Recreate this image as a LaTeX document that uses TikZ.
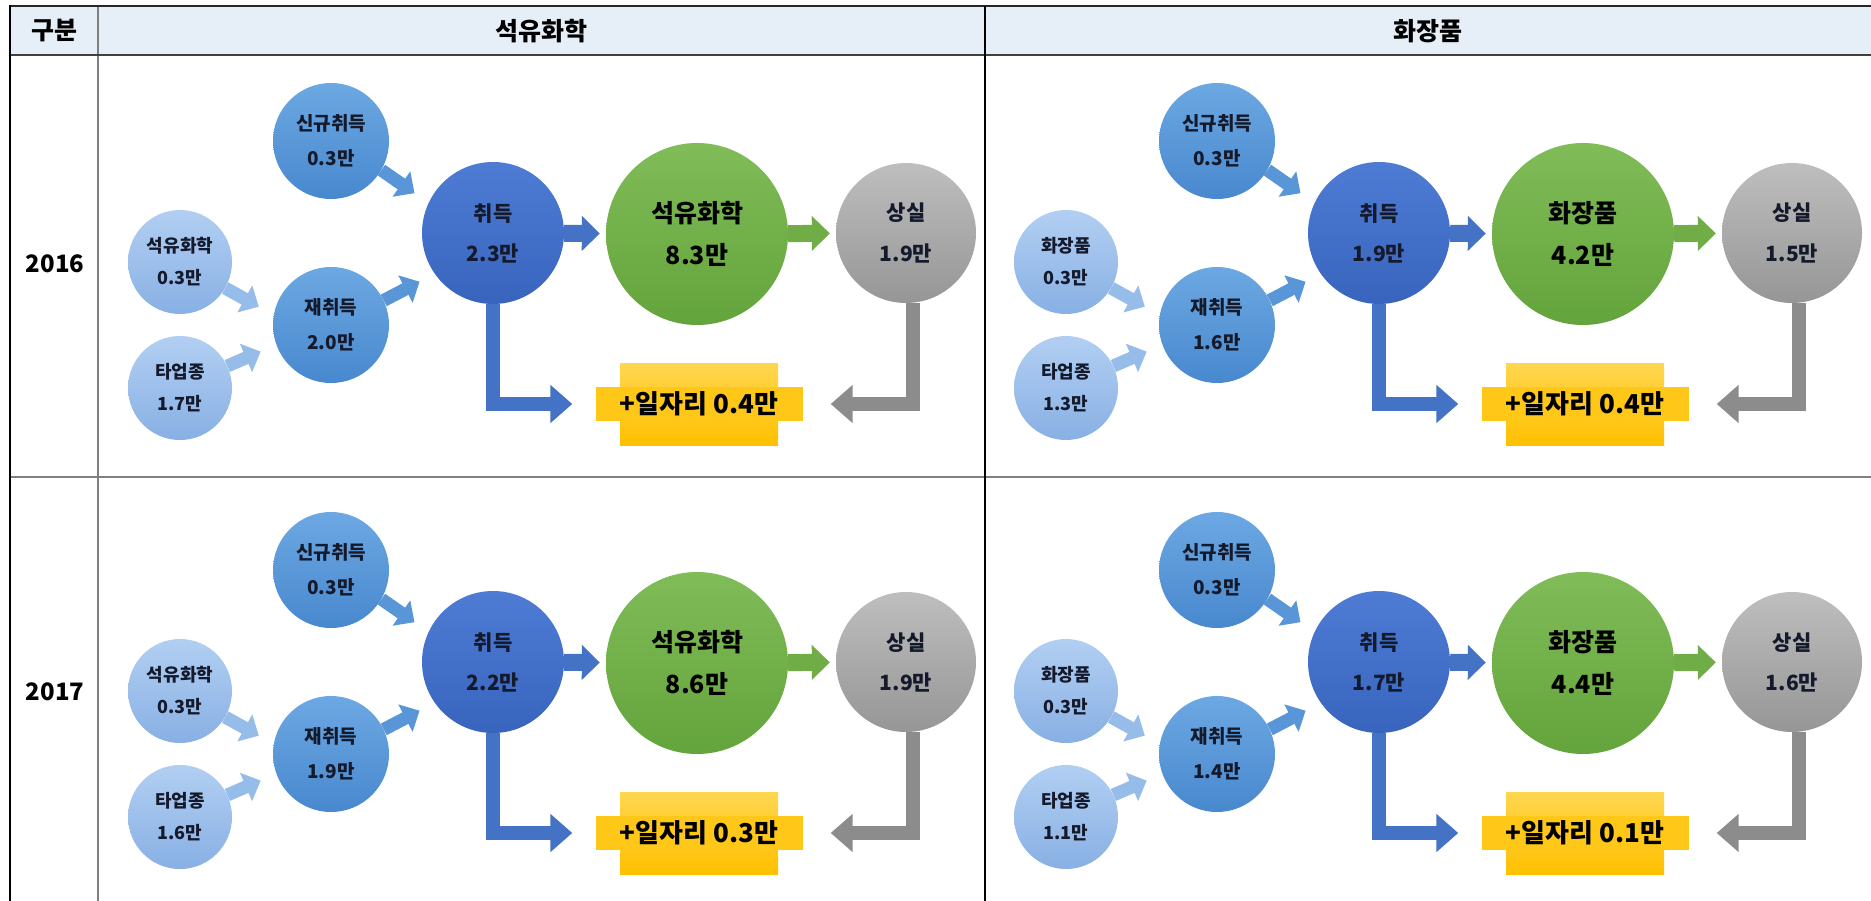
\documentclass[tikz,border=0pt]{standalone}
\usepackage{fontspec}
\setmainfont{Noto Sans CJK KR}
\usetikzlibrary{arrows.meta, backgrounds}

\definecolor{hdrfill}{RGB}{230,238,248}
\definecolor{gridgray}{RGB}{128,128,128}
\definecolor{txtdark}{RGB}{20,26,44}
\definecolor{paletop}{RGB}{178,207,242}
\definecolor{palebot}{RGB}{136,176,228}
\definecolor{midtop}{RGB}{108,168,226}
\definecolor{midbot}{RGB}{72,136,206}
\definecolor{deeptop}{RGB}{78,124,212}
\definecolor{deepbot}{RGB}{56,100,190}
\definecolor{leaftop}{RGB}{128,188,88}
\definecolor{leafbot}{RGB}{100,164,60}
\definecolor{ashtop}{RGB}{190,190,190}
\definecolor{ashbot}{RGB}{150,150,150}
\definecolor{goldtop}{RGB}{255,214,80}
\definecolor{goldbot}{RGB}{255,192,0}
\definecolor{palearr}{RGB}{150,188,234}
\definecolor{midarr}{RGB}{88,150,215}
\definecolor{deeparr}{RGB}{68,114,196}
\definecolor{leafarr}{RGB}{112,173,71}
\definecolor{asharr}{RGB}{140,140,140}

\tikzstyle{hdr} = [font=\bfseries\fontsize{25}{30}\selectfont, text=black]
\tikzstyle{yearlbl} = [font=\bfseries\fontsize{24}{30}\selectfont, text=black]
\tikzstyle{pale} = [circle, minimum size=104pt, inner sep=0pt,
align=center, text=txtdark,
font=\bfseries\fontsize{18}{32}\selectfont,
top color=paletop, bottom color=palebot]
\tikzstyle{midcirc} = [circle, minimum size=116pt, inner sep=0pt,
align=center, text=txtdark,
font=\bfseries\fontsize{19}{35}\selectfont,
top color=midtop, bottom color=midbot]
\tikzstyle{deep} = [circle, minimum size=142pt, inner sep=0pt,
align=center, text=txtdark,
font=\bfseries\fontsize{21}{40}\selectfont,
top color=deeptop, bottom color=deepbot]
\tikzstyle{leaf} = [circle, minimum size=182pt, inner sep=0pt,
align=center, text=black,
font=\bfseries\fontsize{25}{42}\selectfont,
top color=leaftop, bottom color=leafbot]
\tikzstyle{ash} = [circle, minimum size=140pt, inner sep=0pt,
align=center, text=txtdark,
font=\bfseries\fontsize{21}{40}\selectfont,
top color=ashtop, bottom color=ashbot]
\tikzstyle{jobtall} = [rectangle, minimum width=158pt, minimum height=82pt,
inner sep=0pt, top color=goldtop, bottom color=goldbot]
\tikzstyle{jobwide} = [rectangle, minimum width=207pt, minimum height=34pt,
inner sep=0pt, fill=goldbot!70!goldtop, text=black,
font=\bfseries\fontsize{26}{30}\selectfont]
\tikzstyle{flow} = [line width=13pt, -{Triangle[width=30pt,length=16pt]},
shorten >=17pt]
\tikzstyle{bigflow} = [line width=17pt, -{Triangle[width=34pt,length=18pt]},
shorten >=6pt]
\tikzstyle{elbow} = [line width=14pt, -{Triangle[width=37pt,length=22pt]}]

\begin{document}
\begin{tikzpicture}[x=1pt, y=-1pt]
\useasboundingbox (0,0) rectangle (1871,901);

% table
\fill[hdrfill] (10,6) rectangle (1871,55);
\draw[gridgray, line width=2pt] (98,6) -- (98,901);
\draw[gridgray, line width=2pt] (10,477) -- (1871,477);
\draw[black!75, line width=2pt] (10,55) -- (1871,55);
\draw[black!85, line width=2pt] (10,6) -- (1871,6);
\draw[black, line width=2pt] (10,5) -- (10,901);
\draw[black, line width=2pt] (985,6) -- (985,901);

\node (h_gubun) [hdr] at (54,31) {구분};
\node (h_petro) [hdr] at (541,31) {석유화학};
\node (h_cosm) [hdr] at (1428,31) {화장품};
\node (y2016) [yearlbl] at (55,264) {2016};
\node (y2017) [yearlbl] at (55,692) {2017};

\foreach \dx/\dy/\k/\ind/\sa/\sb/\nw/\rc/\ac/\mn/\ls/\jb in {
0/0/a/석유화학/0.3/1.7/0.3/2.0/2.3/8.3/1.9/0.4,
886/0/b/화장품/0.3/1.3/0.3/1.6/1.9/4.2/1.5/0.4,
0/429/c/석유화학/0.3/1.6/0.3/1.9/2.2/8.6/1.9/0.3,
886/429/d/화장품/0.3/1.1/0.3/1.4/1.7/4.4/1.6/0.1}
{
\begin{scope}[shift={(\dx,\dy)}]
\node (\k_own) [pale] at (180,262) {\ind\\\sa{}만};
\node (\k_oth) [pale] at (180,388) {타업종\\\sb{}만};
\node (\k_new) [midcirc] at (331,141) {신규취득\\\nw{}만};
\node (\k_re) [midcirc] at (331,325) {재취득\\\rc{}만};
\node (\k_acq) [deep] at (493,233) {취득\\\ac{}만};
\node (\k_main) [leaf] at (697,234) {\ind\\\mn{}만};
\node (\k_loss) [ash] at (906,233) {상실\\\ls{}만};
\node (\k_jobbg) [jobtall] at (699,404) {};
\node (\k_job) [jobwide] at (699,404) {+일자리 \jb{}만};

\begin{scope}[on background layer]
\draw [flow, draw=palearr] (\k_own.-30) -- (\k_re.170);
\draw [flow, draw=palearr] (\k_oth.25) -- (\k_re.200);
\draw [flow, draw=midarr] (\k_new.-30) -- (\k_acq.155);
\draw [flow, draw=midarr] (\k_re.25) -- (\k_acq.215);
\draw [bigflow, draw=deeparr] (\k_acq) -- (\k_main);
\draw [bigflow, draw=leafarr] (\k_main) -- (\k_loss);
\draw [elbow, draw=deeparr, shorten >=23pt] (\k_acq.south) |- (\k_job.west);
\draw [elbow, draw=asharr, shorten >=28pt] ([xshift=7pt]\k_loss.south) |- (\k_job.east);
\end{scope}
\end{scope}
}

\end{tikzpicture}
\end{document}
